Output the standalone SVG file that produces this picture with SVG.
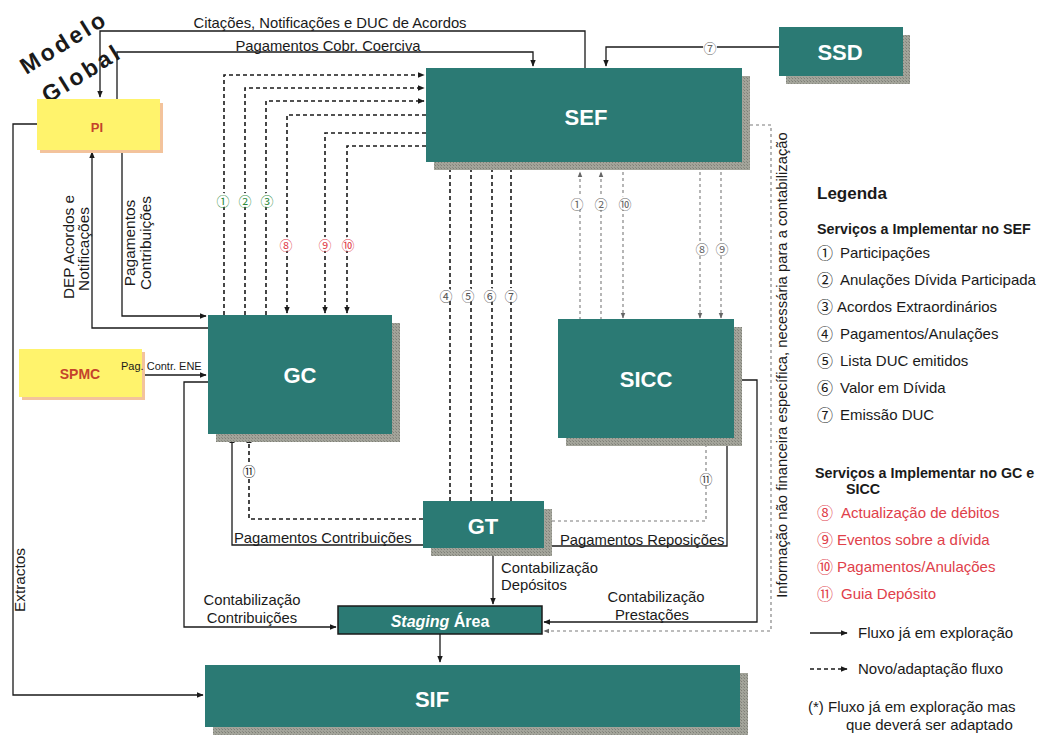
<svg xmlns="http://www.w3.org/2000/svg" width="1045" height="735" viewBox="0 0 1045 735">
  <style>
    .t { font-family: "Liberation Sans", Arial, sans-serif; fill: #1a1a1a; }
    .lbl { font-size: 14.8px; }
    .vlbl { font-size: 15.4px; }
    .box { fill: #2b7a74; }
    .shadow { fill: url(#grain); }
    .ybox { fill: #fff36c; }
    .yshadow { fill: #f3c39c; }
    .ntext { font-family: "Liberation Sans", Arial, sans-serif; font-weight: bold; fill: #ffffff; font-size: 22px; text-anchor: middle; }
    .ntext.small { font-size: 16px; }
    .ytext { font-family: "Liberation Sans", Arial, sans-serif; font-weight: bold; fill: #c4432b; text-anchor: middle; }
    .solid { fill: none; stroke: #1a1a1a; stroke-width: 1.3; }
    .dash { fill: none; stroke: #1a1a1a; stroke-width: 1.6; stroke-dasharray: 4 3; }
    .gdash { fill: none; stroke: #7a7a7a; stroke-width: 1.1; stroke-dasharray: 3 3; }
    .circ { font-family: "Noto Sans CJK JP", "DejaVu Sans", sans-serif; font-size: 13px; text-anchor: middle; dominant-baseline: central; }
    .gap { fill: #ffffff; }
    .leg { font-size: 15px; }
    .legh { font-size: 14.3px; font-weight: bold; }
    .legc { font-family: "Noto Sans CJK JP", "DejaVu Sans", sans-serif; font-size: 16px; }
    .red { fill: #e0404a; }
  </style>
  <defs>
    <pattern id="grain" width="3" height="3" patternUnits="userSpaceOnUse">
      <rect width="3" height="3" fill="#a3a49a"/>
      <rect width="1" height="1" fill="#7e7f77"/>
      <rect x="2" y="2" width="1" height="1" fill="#8a8b83"/>
    </pattern>
    <marker id="ah" viewBox="0 0 10 10" refX="9" refY="5" markerWidth="7" markerHeight="7" markerUnits="userSpaceOnUse" orient="auto">
      <path d="M0,1 L10,5 L0,9 Z" fill="#1a1a1a"/>
    </marker>
    <marker id="ahg" viewBox="0 0 10 10" refX="9" refY="5" markerWidth="6" markerHeight="6" markerUnits="userSpaceOnUse" orient="auto">
      <path d="M0,1 L10,5 L0,9 Z" fill="#666"/>
    </marker>
  </defs>

  <rect width="1045" height="735" fill="#ffffff"/>

  <!-- title -->
  <g id="title" class="t" font-weight="bold" font-size="23" letter-spacing="3" text-anchor="middle">
    <text transform="translate(68,49) rotate(-32)">Modelo</text>
    <text transform="translate(86,80) rotate(-32)">Global</text>
  </g>

  <!-- connectors -->
  <g id="connectors">
    <!-- solid flows -->
    <path class="solid" d="M585,68 V31 H100 V97" marker-end="url(#ah)"/>
    <path class="solid" d="M117,99 V52 H533 V66" marker-end="url(#ah)"/>
    <path class="solid" d="M779,47 H606 V66" marker-end="url(#ah)"/>
    <path class="solid" d="M208,328 H92 V152" marker-end="url(#ah)"/>
    <path class="solid" d="M122,150 V316 H206" marker-end="url(#ah)"/>
    <path class="solid" d="M143,375 H206" marker-end="url(#ah)"/>
    <path class="solid" d="M208,382 H184 V627 H336" marker-end="url(#ah)"/>
    <path class="solid" d="M37,124 H13 V695 H203" marker-end="url(#ah)"/>
    <path class="solid" d="M423,545 H232 V437" marker-end="url(#ah)"/>
    <path class="solid" d="M544,546 H727 V438"/>
    <path class="solid" d="M735,380 H757 V622 H544" marker-end="url(#ah)"/>
    <path class="solid" d="M493,548 V604" marker-end="url(#ah)"/>
    <path class="solid" d="M440,634 V662" marker-end="url(#ah)"/>

    <!-- new / adapted flows GC <-> SEF -->
    <path class="dash" d="M224,315 V75 H424" marker-end="url(#ah)"/>
    <path class="dash" d="M245,315 V88 H424" marker-end="url(#ah)"/>
    <path class="dash" d="M266,315 V101 H424" marker-end="url(#ah)"/>
    <path class="dash" d="M426,115 H287 V313" marker-end="url(#ah)"/>
    <path class="dash" d="M426,133 H325 V313" marker-end="url(#ah)"/>
    <path class="dash" d="M426,146 H347 V313" marker-end="url(#ah)"/>

    <!-- GT -> SEF -->
    <path class="dash" d="M450,501 V164" marker-end="url(#ah)"/>
    <path class="dash" d="M471,501 V164" marker-end="url(#ah)"/>
    <path class="dash" d="M492,501 V164" marker-end="url(#ah)"/>
    <path class="dash" d="M511,501 V164" marker-end="url(#ah)"/>

    <!-- GT -> GC (guia depósito) -->
    <path class="dash" d="M423,519 H249 V437" marker-end="url(#ah)"/>

    <!-- SEF <-> SICC -->
    <path class="gdash" d="M580,320 V172" marker-end="url(#ahg)"/>
    <path class="gdash" d="M601,320 V172" marker-end="url(#ahg)"/>
    <path class="gdash" d="M623,172 V318" marker-end="url(#ahg)"/>
    <path class="gdash" d="M700,172 V318" marker-end="url(#ahg)"/>
    <path class="gdash" d="M721,172 V318" marker-end="url(#ahg)"/>

    <!-- GT -> SICC -->
    <path class="gdash" d="M552,521 H706 V446"/>

    <!-- SEF -> Staging (informação não financeira) -->
    <path class="gdash" d="M750,125 H771 V631 H544" marker-end="url(#ahg)"/>

    <!-- service numbers on flows -->
    <g>
      <circle class="gap" cx="223" cy="200" r="7"/><text class="circ" x="223" y="200" fill="#2e8b3d">①</text>
      <circle class="gap" cx="245" cy="200" r="7"/><text class="circ" x="245" y="200" fill="#2e8b3d">②</text>
      <circle class="gap" cx="267" cy="200" r="7"/><text class="circ" x="267" y="200" fill="#2e8b3d">③</text>
      <circle class="gap" cx="286" cy="244" r="7"/><text class="circ" x="286" y="244" fill="#e0404a">⑧</text>
      <circle class="gap" cx="325" cy="244" r="7"/><text class="circ" x="325" y="244" fill="#e0404a">⑨</text>
      <circle class="gap" cx="348" cy="244" r="7"/><text class="circ" x="348" y="244" fill="#e0404a">⑩</text>
      <circle class="gap" cx="446" cy="295" r="7"/><text class="circ" x="446" y="295" fill="#555">④</text>
      <circle class="gap" cx="468" cy="295" r="7"/><text class="circ" x="468" y="295" fill="#555">⑤</text>
      <circle class="gap" cx="490" cy="295" r="7"/><text class="circ" x="490" y="295" fill="#555">⑥</text>
      <circle class="gap" cx="511" cy="295" r="7"/><text class="circ" x="511" y="295" fill="#555">⑦</text>
      <circle class="gap" cx="577" cy="203" r="7"/><text class="circ" x="577" y="203" fill="#666">①</text>
      <circle class="gap" cx="601" cy="203" r="7"/><text class="circ" x="601" y="203" fill="#666">②</text>
      <circle class="gap" cx="625" cy="203" r="7"/><text class="circ" x="625" y="203" fill="#666">⑩</text>
      <circle class="gap" cx="702" cy="248" r="7"/><text class="circ" x="702" y="248" fill="#666">⑧</text>
      <circle class="gap" cx="722" cy="248" r="7"/><text class="circ" x="722" y="248" fill="#666">⑨</text>
      <circle class="gap" cx="249" cy="470" r="7"/><text class="circ" x="249" y="470" fill="#222">⑪</text>
      <circle class="gap" cx="706" cy="478" r="7"/><text class="circ" x="706" y="478" fill="#444">⑪</text>
      <circle class="gap" cx="710" cy="47" r="7"/><text class="circ" x="710" y="47" fill="#666">⑦</text>
    </g>
  </g>

  <!-- nodes -->
  <g id="node-pi">
    <rect class="yshadow" x="40" y="103" width="123" height="50"/>
    <rect class="ybox" x="37" y="99" width="123" height="51"/>
    <text class="ytext" x="97" y="132" font-size="13">PI</text>
  </g>

  <g id="node-spmc">
    <rect class="yshadow" x="22" y="352" width="123" height="48"/>
    <rect class="ybox" x="19" y="349" width="123" height="48"/>
    <text class="ytext" x="80" y="379" font-size="14">SPMC</text>
  </g>

  <g id="node-sef">
    <rect class="shadow" x="434" y="76" width="316" height="94"/>
    <rect class="box" x="426" y="68" width="316" height="94"/>
    <text class="ntext" x="586" y="125">SEF</text>
  </g>

  <g id="node-ssd">
    <rect class="shadow" x="786" y="35" width="124" height="49"/>
    <rect class="box" x="779" y="27" width="124" height="49"/>
    <text class="ntext" x="840" y="60">SSD</text>
  </g>

  <g id="node-gc">
    <rect class="shadow" x="216" y="323" width="184" height="119"/>
    <rect class="box" x="208" y="315" width="184" height="119"/>
    <text class="ntext" x="300" y="383">GC</text>
  </g>

  <g id="node-sicc">
    <rect class="shadow" x="566" y="327" width="176" height="119"/>
    <rect class="box" x="558" y="319" width="176" height="119"/>
    <text class="ntext" x="646" y="387">SICC</text>
  </g>

  <g id="node-gt">
    <rect class="shadow" x="431" y="509" width="121" height="47"/>
    <rect class="box" x="423" y="501" width="121" height="47"/>
    <text class="ntext" x="483" y="534">GT</text>
  </g>

  <g id="node-staging">
    <rect class="box" x="338" y="606" width="204" height="28" stroke="#1a1a1a" stroke-width="1.5"/>
    <text class="ntext small" x="440" y="627"><tspan font-style="italic">Staging</tspan> Área</text>
  </g>

  <g id="node-sif">
    <rect class="shadow" x="213" y="673" width="535" height="62"/>
    <rect class="box" x="205" y="665" width="535" height="62"/>
    <text class="ntext" x="432" y="707">SIF</text>
  </g>

  <!-- flow labels -->
  <g id="flow-labels" class="t lbl">
    <text x="330" y="28" text-anchor="middle">Citações, Notificações e DUC de Acordos</text>
    <text x="328" y="51" text-anchor="middle">Pagamentos Cobr. Coerciva</text>
    <text class="vlbl" transform="translate(74,247) rotate(-90)" text-anchor="middle">DEP Acordos e</text>
    <text class="vlbl" transform="translate(89,249) rotate(-90)" text-anchor="middle">Notificações</text>
    <text class="vlbl" transform="translate(135,243) rotate(-90)" text-anchor="middle">Pagamentos</text>
    <text class="vlbl" transform="translate(151,243) rotate(-90)" text-anchor="middle">Contribuições</text>
    <text x="121" y="370" font-size="11">Pag. Contr. ENE</text>
    <text class="vlbl" transform="translate(25,580) rotate(-90)" text-anchor="middle">Extractos</text>
    <text x="234" y="543">Pagamentos Contribuições</text>
    <text x="560" y="545">Pagamentos Reposições</text>
    <text x="501" y="573">Contabilização</text>
    <text x="501" y="590">Depósitos</text>
    <text x="252" y="605" text-anchor="middle">Contabilização</text>
    <text x="252" y="623" text-anchor="middle">Contribuições</text>
    <text x="656" y="602" text-anchor="middle">Contabilização</text>
    <text x="652" y="620" text-anchor="middle">Prestações</text>
    <text transform="translate(787,365) rotate(-90)" text-anchor="middle">Informação não financeira específica, necessária para a contabilização</text>
  </g>

  <!-- legend -->
  <g id="legend" class="t">
    <text x="817" y="199" font-size="17" font-weight="bold">Legenda</text>
    <text class="legh" x="817" y="234">Serviços a Implementar no SEF</text>
    <g class="legc" fill="#1a1a1a">
      <text x="817" y="259">①</text>
      <text x="817" y="286">②</text>
      <text x="817" y="313">③</text>
      <text x="817" y="340">④</text>
      <text x="817" y="367">⑤</text>
      <text x="817" y="394">⑥</text>
      <text x="817" y="421">⑦</text>
    </g>
    <g class="leg">
      <text x="840" y="258">Participações</text>
      <text x="840" y="285">Anulações Dívida Participada</text>
      <text x="837" y="312">Acordos Extraordinários</text>
      <text x="840" y="339">Pagamentos/Anulações</text>
      <text x="840" y="366">Lista DUC emitidos</text>
      <text x="840" y="393">Valor em Dívida</text>
      <text x="840" y="420">Emissão DUC</text>
    </g>

    <text class="legh" x="815" y="478">Serviços a Implementar no GC e</text>
    <text class="legh" x="846" y="494">SICC</text>
    <g class="legc red">
      <text x="817" y="519">⑧</text>
      <text x="817" y="546">⑨</text>
      <text x="817" y="573">⑩</text>
      <text x="817" y="600">⑪</text>
    </g>
    <g class="leg red">
      <text x="841" y="518">Actualização de débitos</text>
      <text x="837" y="545">Eventos sobre a dívida</text>
      <text x="837" y="572">Pagamentos/Anulações</text>
      <text x="841" y="599">Guia Depósito</text>
    </g>

    <path class="solid" d="M810,633 H847" marker-end="url(#ah)"/>
    <text class="leg" x="858" y="638">Fluxo já em exploração</text>
    <path class="dash" d="M810,669 H847" marker-end="url(#ah)"/>
    <text class="leg" x="858" y="674">Novo/adaptação fluxo</text>
    <text class="leg" x="808" y="712">(*) Fluxo já em exploração mas</text>
    <text class="leg" x="846" y="730">que deverá ser adaptado</text>
  </g>
</svg>
